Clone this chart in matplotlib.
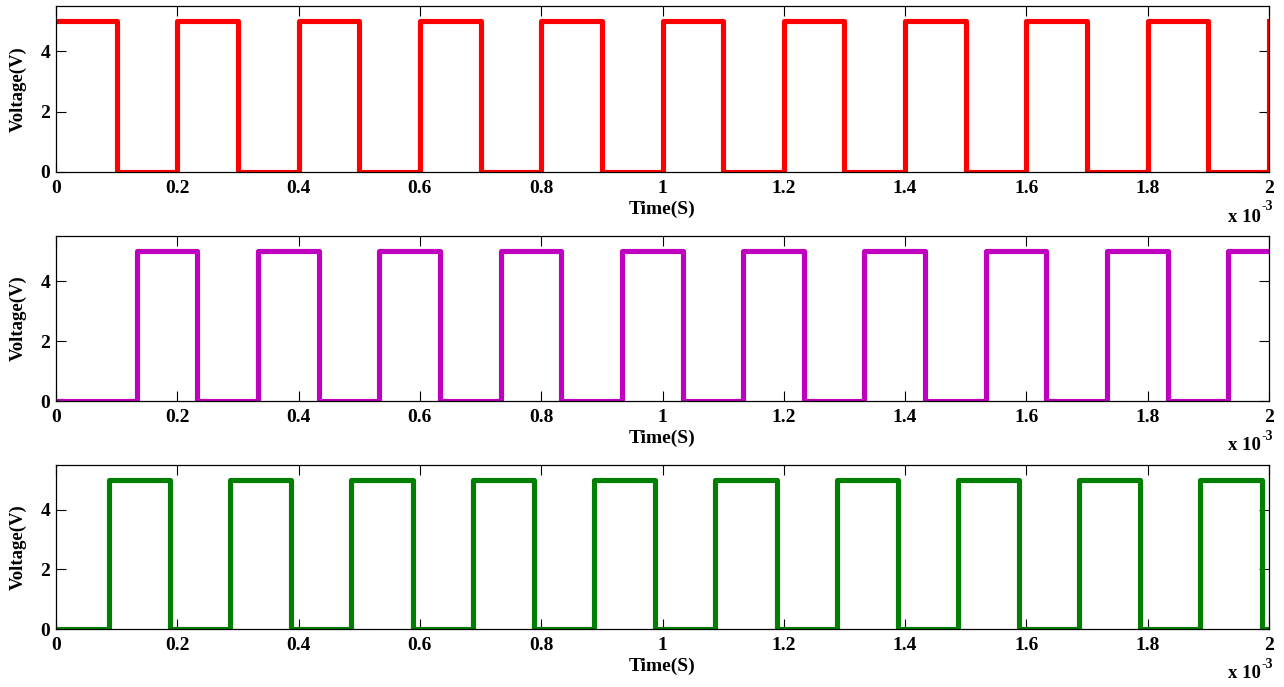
import matplotlib
matplotlib.use("Agg")
import matplotlib.pyplot as plt

# Time in ms (axis shows x 10^-3 s)
red_t = [0.0, 0.1, 0.2, 0.3, 0.4, 0.5, 0.6, 0.7, 0.8, 0.9, 1.0,
         1.1, 1.2, 1.3, 1.4, 1.5, 1.6, 1.7, 1.8, 1.9, 2.0]
red_v = [5, 0, 5, 0, 5, 0, 5, 0, 5, 0, 5,
         0, 5, 0, 5, 0, 5, 0, 5, 0, 5]

mag_t = [0.0, 0.133, 0.233, 0.333, 0.433, 0.533, 0.633, 0.733, 0.833, 0.933, 1.033,
         1.133, 1.233, 1.333, 1.433, 1.533, 1.633, 1.733, 1.833, 1.933, 2.0]
mag_v = [0, 5, 0, 5, 0, 5, 0, 5, 0, 5, 0,
         5, 0, 5, 0, 5, 0, 5, 0, 5, 5]

grn_t = [0.0, 0.087, 0.188, 0.287, 0.388, 0.487, 0.588, 0.687, 0.788, 0.887, 0.988,
         1.087, 1.188, 1.287, 1.388, 1.487, 1.588, 1.687, 1.788, 1.887, 1.988, 2.0]
grn_v = [0, 5, 0, 5, 0, 5, 0, 5, 0, 5, 0,
         5, 0, 5, 0, 5, 0, 5, 0, 5, 0, 0]

xticks = [0, 0.2, 0.4, 0.6, 0.8, 1.0, 1.2, 1.4, 1.6, 1.8, 2.0]
xtick_labels = ['0', '0.2', '0.4', '0.6', '0.8', '1', '1.2', '1.4', '1.6', '1.8', '2']
yticks = [0, 2, 4]
ytick_labels = ['0', '2', '4']

series = [(red_t, red_v, '#FF0000'),
          (mag_t, mag_v, '#BF00BF'),
          (grn_t, grn_v, '#007F00')]

plt.rcParams['font.family'] = ['Liberation Serif', 'DejaVu Serif']
plt.rcParams['font.weight'] = 'bold'

fig = plt.figure(figsize=(12.84, 6.87), dpi=100)
W, H = 1284, 687
left_px, right_px = 56, 1269
panels_px = [(6, 172), (236, 401), (465, 629)]

for (top, bot), (t, v, c) in zip(panels_px, series):
    ax = fig.add_axes([left_px / W, 1 - bot / H, (right_px - left_px) / W, (bot - top) / H])
    ax.plot(t, v, drawstyle='steps-post', color=c, lw=3.7)
    ax.set_xlim(0, 2)
    ax.set_ylim(0, 5.5)
    ax.set_xticks(xticks)
    ax.set_xticklabels(xtick_labels)
    ax.set_yticks(yticks)
    ax.set_yticklabels(ytick_labels)
    ax.tick_params(direction='in', top=True, right=True, length=7, width=0.8,
                   labelsize=14)
    ax.tick_params(axis='x', pad=6)
    ax.tick_params(axis='y', pad=4)
    for lab in ax.get_xticklabels() + ax.get_yticklabels():
        lab.set_fontweight('bold')
    for s in ax.spines.values():
        s.set_linewidth(0.9)
    ax.set_ylabel('Voltage(V)', fontsize=13.5, fontweight='bold')
    ax.yaxis.set_label_coords(-0.0245, 0.5)
    h = bot - top
    ax.text(0.5, -37 / h, 'Time(S)', transform=ax.transAxes,
            ha='center', va='center', fontsize=14, fontweight='bold')
    ax.text(0.9935, -45 / h, 'x 10', transform=ax.transAxes,
            ha='right', va='center', fontsize=13.5, fontweight='bold')
    ax.text(0.9935, -35 / h, '-3', transform=ax.transAxes,
            ha='left', va='center', fontsize=10, fontweight='bold')

fig.savefig('out.png', dpi=100, facecolor='white')
